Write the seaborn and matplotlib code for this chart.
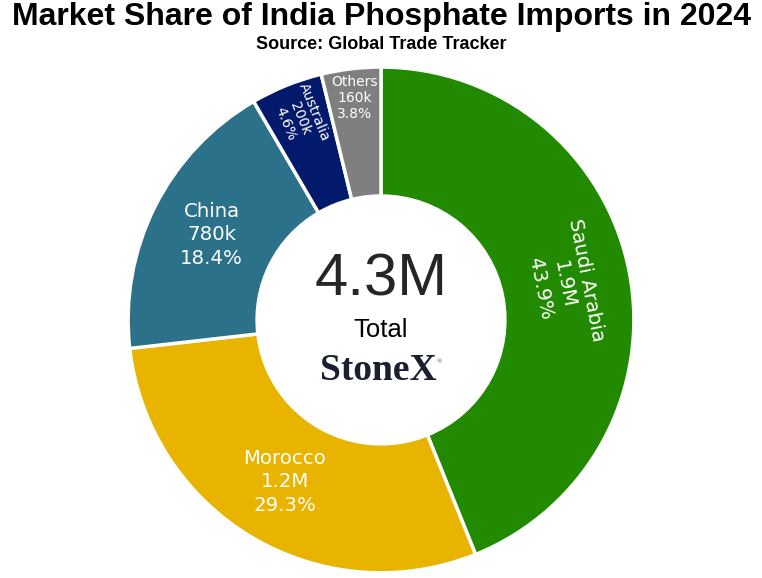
import numpy as np
import pandas as pd
import matplotlib
matplotlib.use('Agg')
import matplotlib.pyplot as plt
import seaborn as sns

sns.set_theme(style='white')
plt.rcParams['font.family'] = ['DejaVu Sans']

# data
paises = ['Saudi Arabia', 'Morocco', 'China', 'Australia', 'Others']
valores = ['1.9M', '1.2M', '780k', '200k', '160k']
participacao = [43.9, 29.3, 18.4, 4.6, 3.8]
cores = ['#218a00', '#e8b400', '#2a7189', '#03196b', '#7f7f7f']

df = pd.DataFrame({'Pais': paises, 'Valor': valores, 'Share': participacao})

fig = plt.figure(figsize=(7.62, 5.78), dpi=100)
ax = fig.add_axes([0.168, 0.009, 0.664, 0.875])

wedges, _ = ax.pie(
    df['Share'],
    colors=cores,
    startangle=90,
    counterclock=False,
    radius=1,
    wedgeprops=dict(width=0.51, edgecolor='white', linewidth=2.5),
)
ax.set_xlim(-1, 1)
ax.set_ylim(-1, 1)
ax.set_aspect('equal')
ax.axis('off')

# rotulos dentro das fatias
conf = {
    'Saudi Arabia': dict(r=0.735, rot='radial', size=14.2, ls=1.3),
    'Morocco': dict(r=0.745, rot=0, size=14.2, ls=1.3),
    'China': dict(r=0.75, rot=0, size=14.2, ls=1.3),
    'Australia': dict(r=0.86, rot='radial', size=10, ls=1.15),
    'Others': dict(r=0.885, rot=0, size=10, ls=1.2),
}
for w, (i, row) in zip(wedges, df.iterrows()):
    ang = ((w.theta1 + w.theta2) / 2) % 360
    c = conf[row['Pais']]
    x = c['r'] * np.cos(np.radians(ang))
    y = c['r'] * np.sin(np.radians(ang))
    if c['rot'] == 'radial':
        rot = ang - 90 if ang < 90 else ang + 180
    else:
        rot = 0
    ax.text(x, y, f"{row['Pais']}\n{row['Valor']}\n{row['Share']}%",
            ha='center', va='center', color='white', fontsize=c['size'],
            rotation=rot, rotation_mode='anchor', linespacing=c['ls'],
            family=['Verdana', 'DejaVu Sans'])

# textos do centro
ax.text(0, 0.158, '4.3M', ha='center', va='center', fontsize=43,
        color='#262626', family=['Liberation Sans', 'DejaVu Sans'])
ax.text(0, -0.04, 'Total', ha='center', va='center', fontsize=18.5,
        color='black', family=['Liberation Sans', 'DejaVu Sans'])
ax.text(-0.01, -0.2, 'StoneX', ha='center', va='center', fontsize=27,
        color='#1b2030', fontweight='bold', family=['Liberation Serif', 'DejaVu Serif'])
ax.text(0.232, -0.165, '®', ha='center', va='center', fontsize=5,
        color='#555555', family=['Liberation Serif', 'DejaVu Serif'])

fig.text(0.5, 0.971, 'Market Share of India Phosphate Imports in 2024',
         ha='center', va='center', fontsize=23, fontweight='bold', color='black',
         family=['Liberation Sans Narrow', 'Liberation Sans', 'DejaVu Sans'])
fig.text(0.5, 0.923, 'Source: Global Trade Tracker',
         ha='center', va='center', fontsize=13, fontweight='bold', color='black',
         family=['Liberation Sans Narrow', 'Liberation Sans', 'DejaVu Sans'])

fig.savefig('out.png', dpi=100, facecolor='white')
